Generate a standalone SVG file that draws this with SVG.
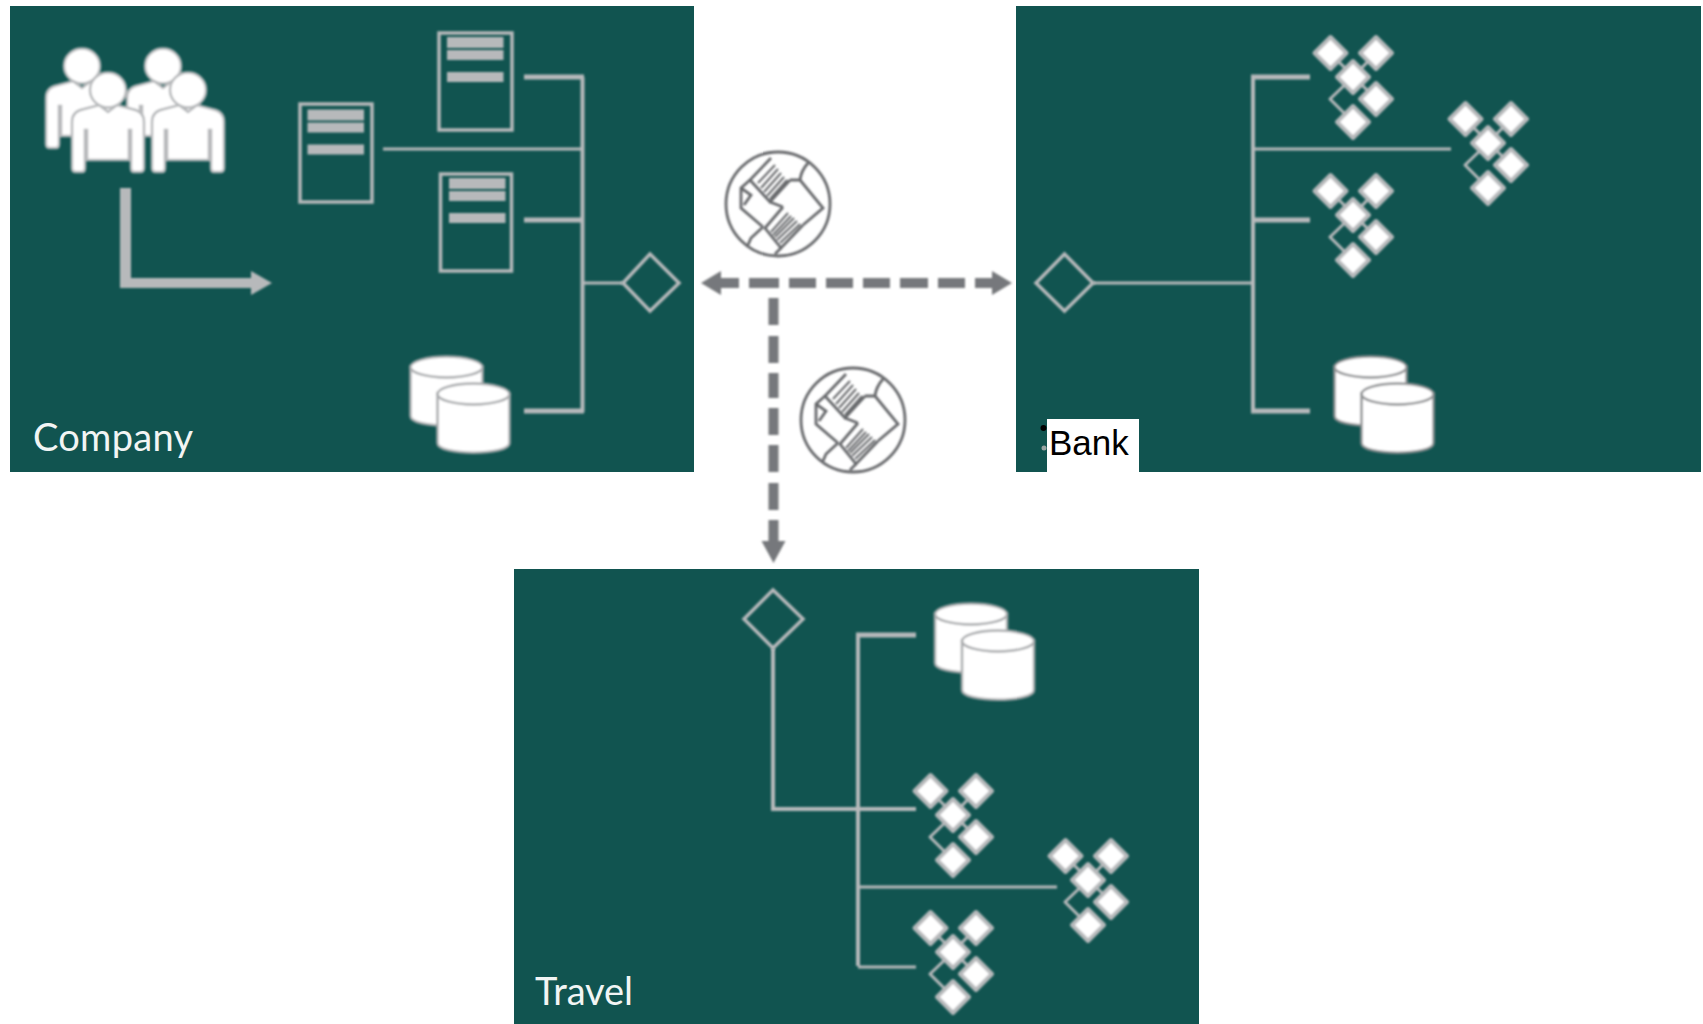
<svg xmlns="http://www.w3.org/2000/svg" width="1703" height="1024" viewBox="0 0 1703 1024">
<style>
.panel{fill:#115450}
.bus{stroke:#b7b9bb;fill:none;stroke-width:4}
.thin{stroke-width:3}
.thick{stroke-width:5}
.dash{fill:#76787b}
.doc{fill:none;stroke:#b7b9bb;stroke-width:3.5}
.bar{fill:#b7b9bb}
.gate{fill:none;stroke:#b7b9bb;stroke-width:3.5}
.lbl{font-family:"Lato","Open Sans",sans-serif;font-size:38px;font-weight:400;fill:#f2f5f4}
.blk{font-family:"Liberation Sans",Arial,sans-serif;font-size:35px;fill:#000}
.person{fill:#fff;stroke:#b7b9bb;stroke-width:2.5}
.cyl{fill:#fff;stroke-width:2.5}
.dia{fill:#fff;stroke:#b7b9bb;stroke-width:4;stroke-linejoin:round}
.lnk{fill:none;stroke:#b7b9bb;stroke-width:3}
.shake{fill:none;stroke:#66686b;stroke-width:2.8}
.stripe{fill:none;stroke:#66686b;stroke-width:2}
</style>
<defs>
<filter id="soft" x="-10%" y="-10%" width="120%" height="120%"><feGaussianBlur stdDeviation="0.9"/></filter>
<g id="person">
<ellipse cx="0" cy="0" rx="18" ry="17.5"/>
<path d="M-36,78 L-36,32 Q-36,21 -24,19 L-9,15 L0,22 L9,15 L24,19 Q36,21 36,32 L36,78 Q36,82 32,82 L26,82 Q23,82 23,78 L23,40 L21,40 L21,70 L-21,70 L-21,40 L-23,40 L-23,78 Q-23,82 -26,82 L-32,82 Q-36,82 -36,78Z"/>
</g>
<g id="cyl">
<path class="cyl" d="M0,11 L0,60 C0,73 72,73 72,60 L72,11 Z"/>
<ellipse class="cyl" cx="36" cy="11" rx="36" ry="10.5"/>
</g>
<g id="db">
<use href="#cyl" x="0" y="0"/>
<use href="#cyl" x="27" y="27"/>
</g>
<g id="cluster">
<path class="lnk" d="M-22,-23 L23,22 M23,-24 L0,0 M0,0 L-23,22 L0,45" stroke-linejoin="round"/>
<path class="dia" d="M-22.500,-40 L-6.500,-24 L-22.500,-8 L-38.500,-24Z"/>
<path class="dia" d="M23,-40 L39,-24 L23,-8 L7,-24Z"/>
<path class="dia" d="M0,-16 L16,0 L0,16 L-16,0Z"/>
<path class="dia" d="M23,6 L39,22 L23,38 L7,22Z"/>
<path class="dia" d="M0,29 L16,45 L0,61 L-16,45Z"/>
</g>
<g id="docbars">
<rect class="bar" x="9.500" y="5" width="56.500" height="11"/>
<rect class="bar" x="9.500" y="18" width="56.500" height="10"/>
<rect class="bar" x="9.500" y="40" width="56.500" height="10"/>
</g>
<g id="shake">
<circle class="shake" cx="0" cy="0" r="52"/>
<path class="shake" d="M-7,-46 L-28,-24 L-8,-2 L12,-24 M5,3 L-13,24 L3,44 L25,21"/>
<path class="shake" d="M-28,-24 L-37,-16 L-37,4 L-15,23 M-37,-16 L-27,-9 L-34,1 M12,-24 L22,-24 L45,4 L25,21 M22,-24 Q23,-33 30,-41 M-15,23 L-27,34 L-30,41 M3,44 L-3,50 M-8,-2 L5,3"/>
<path class="stripe" d="M-20,-21 L-3,-39 M-17,-16 L0,-35 M-14,-12 L3,-31 M-11,-8 L6,-27 M-8,-5 L9,-24 M-7,28 L10,9 M-5,31 L13,12 M-3,33 L16,14 M-1,36 L19,17 M2,39 L22,20"/>
</g>
</defs>

<rect width="1703" height="1024" fill="#fff"/>

<g id="panel-company"><rect class="panel" x="10" y="6" width="684" height="466"/></g>
<g id="panel-bank"><rect class="panel" x="1016" y="6" width="685" height="466"/></g>
<g id="panel-travel"><rect class="panel" x="514" y="569" width="685" height="455"/></g>

<g id="connectors" filter="url(#soft)">
<path class="bus" d="M582.500,77 V412"/>
<path class="bus thick" d="M524,77 H584 M524,220 H584 M524,411 H584"/>
<path class="bus thin" d="M383,149 H582 M582,283 H623"/>
<path class="bus" d="M1253,77 V412"/>
<path class="bus thick" d="M1251,77 H1310 M1251,220 H1310 M1251,411 H1310"/>
<path class="bus thin" d="M1253,149 H1451 M1093,283 H1253"/>
<path class="bus" d="M858,635 V966 M773,648 V809 H916"/>
<path class="bus thick" d="M856,635 H916"/>
<path class="bus thin" d="M858,887 H1057 M858,967 H916"/>
<g id="arrow-local"><path class="bar" d="M120,188 H131 V278 H251 V271 L272,283 L251,295 V288 H120 Z"/></g>
<g id="link-horizontal" class="dash">
<path d="M701,283 L721,271 V278 H739 V288 H721 V295 Z"/>
<rect x="749" y="278" width="30" height="10"/>
<rect x="789" y="278" width="27" height="10"/>
<rect x="826" y="278" width="27" height="10"/>
<rect x="863" y="278" width="27" height="10"/>
<rect x="900" y="278" width="28" height="10"/>
<rect x="938" y="278" width="27" height="10"/>
<path d="M975,278 H992 V271 L1012,283 L992,295 V288 H975 Z"/>
</g>
<g id="link-vertical" class="dash">
<rect x="768.500" y="298" width="10" height="27"/>
<rect x="768.500" y="336" width="10" height="27"/>
<rect x="768.500" y="373" width="10" height="25"/>
<rect x="768.500" y="408" width="10" height="27"/>
<rect x="768.500" y="445" width="10" height="27"/>
<rect x="768.500" y="483" width="10" height="27"/>
<path d="M768.500,520 H778.500 V541 H785.500 L773.500,563 L761.500,541 H768.500 Z"/>
</g>
</g>

<g id="people" class="person" filter="url(#soft)">
<use href="#person" x="82" y="66"/>
<use href="#person" x="163" y="66"/>
<use href="#person" x="108" y="90"/>
<use href="#person" x="188" y="90"/>
</g>
<g id="doc-top" filter="url(#soft)"><rect class="doc" x="439" y="33" width="73" height="97"/><use href="#docbars" x="437.500" y="32"/></g>
<g id="doc-left" filter="url(#soft)"><rect class="doc" x="300" y="104" width="72" height="98"/><use href="#docbars" x="298" y="104.500"/></g>
<g id="doc-mid" filter="url(#soft)"><rect class="doc" x="440.500" y="174" width="71" height="97"/><use href="#docbars" x="439.500" y="173"/></g>
<g id="db-company" stroke="#a9abad" filter="url(#soft)"><use href="#db" x="410.500" y="356"/></g>
<g id="gate-company" filter="url(#soft)"><path class="gate" d="M623,283 L650,254 L679,283 L650,311 Z"/></g>
<g id="label-company"><text class="lbl" x="33" y="451" textLength="160">Company</text></g>

<g id="gate-bank" filter="url(#soft)"><path class="gate" d="M1036,283 L1064.500,254 L1093,283 L1064.500,311 Z"/></g>
<g id="cluster-bank-1" filter="url(#soft)"><use href="#cluster" x="1353" y="77"/></g>
<g id="cluster-bank-2" filter="url(#soft)"><use href="#cluster" x="1488" y="143"/></g>
<g id="cluster-bank-3" filter="url(#soft)"><use href="#cluster" x="1353" y="215"/></g>
<g id="db-bank" stroke="#8f9193" filter="url(#soft)"><use href="#db" x="1334.500" y="356"/></g>
<g id="label-bank">
<rect x="1047" y="419" width="92" height="53" fill="#fff"/>
<circle cx="1043.500" cy="428" r="3" fill="#000"/>
<circle cx="1044" cy="448" r="2.500" fill="#9aa5a4"/>
<text class="blk" x="1049" y="455">Bank</text>
</g>

<g id="gate-travel" filter="url(#soft)"><path class="gate" d="M744,619 L773,590 L803,619 L773,648 Z"/></g>
<g id="db-travel" stroke="#a9abad" filter="url(#soft)"><use href="#db" x="935" y="603"/></g>
<g id="cluster-travel-1" filter="url(#soft)"><use href="#cluster" x="953" y="815"/></g>
<g id="cluster-travel-2" filter="url(#soft)"><use href="#cluster" x="1088" y="880"/></g>
<g id="cluster-travel-3" filter="url(#soft)"><use href="#cluster" x="953" y="952"/></g>
<g id="label-travel"><text class="lbl" x="535" y="1005" textLength="98">Travel</text></g>

<g id="handshake-top" filter="url(#soft)"><use href="#shake" x="778" y="204"/></g>
<g id="handshake-bottom" filter="url(#soft)"><use href="#shake" x="853" y="420"/></g>
</svg>
